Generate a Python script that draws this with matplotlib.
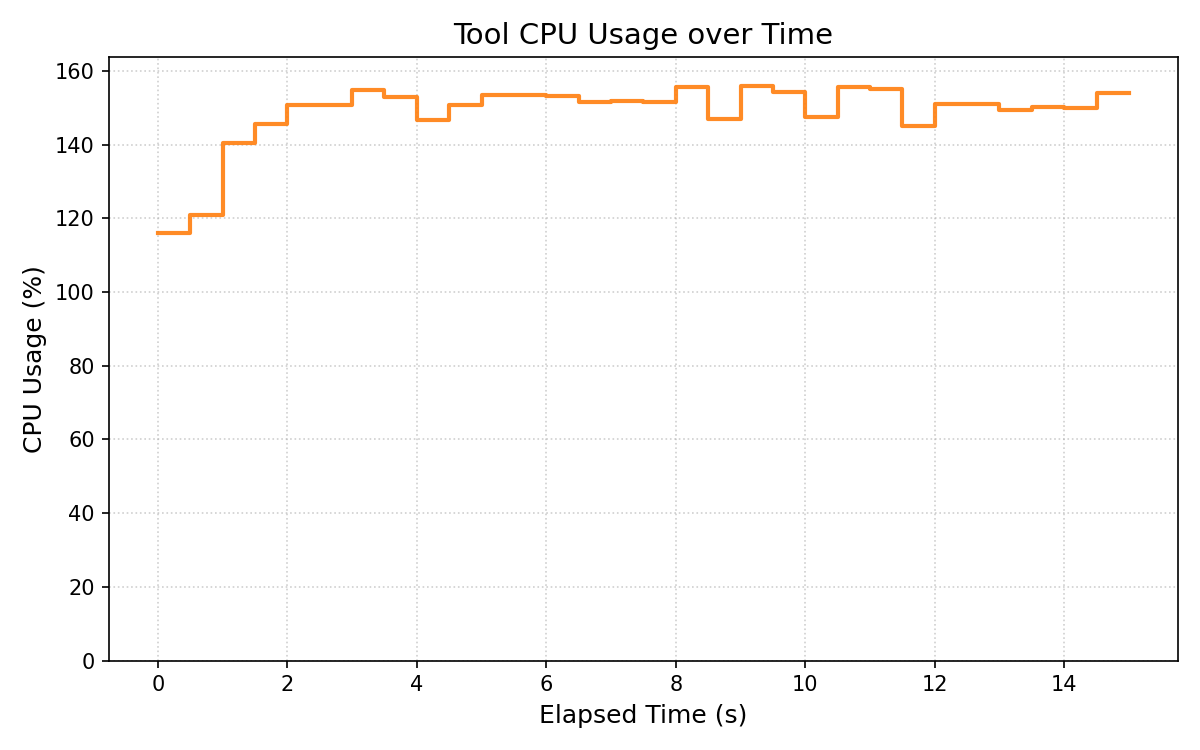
import matplotlib
import matplotlib.pyplot as plt
import numpy as np

matplotlib.use("Agg")

# Sample times (s), one sample every 0.5 s
elapsed = np.arange(0, 15.5, 0.5)

# CPU usage (%) per sample; last value repeated to close the final step
cpu_usage = [
    116.0, 121.0, 140.4, 145.6, 150.7, 150.7, 154.8, 152.9, 146.6, 150.7,
    153.5, 153.5, 153.3, 151.5, 151.8, 151.5, 155.6, 146.9, 156.0, 154.3,
    147.5, 155.7, 155.1, 145.0, 151.1, 151.1, 149.5, 150.3, 149.9, 154.0,
    154.0,
]

fig, ax = plt.subplots(figsize=(8, 5), dpi=150)
ax.step(elapsed, cpu_usage, where="post", color="tab:orange", linewidth=2, alpha=0.9)

ax.set_title("Tool CPU Usage over Time", fontsize=14)
ax.set_xlabel("Elapsed Time (s)", fontsize=12)
ax.set_ylabel("CPU Usage (%)", fontsize=12)
ax.set_ylim(0, max(cpu_usage) * 1.05)
ax.grid(True, linestyle=":", alpha=0.6)

plt.tight_layout()
plt.savefig("out.png")
